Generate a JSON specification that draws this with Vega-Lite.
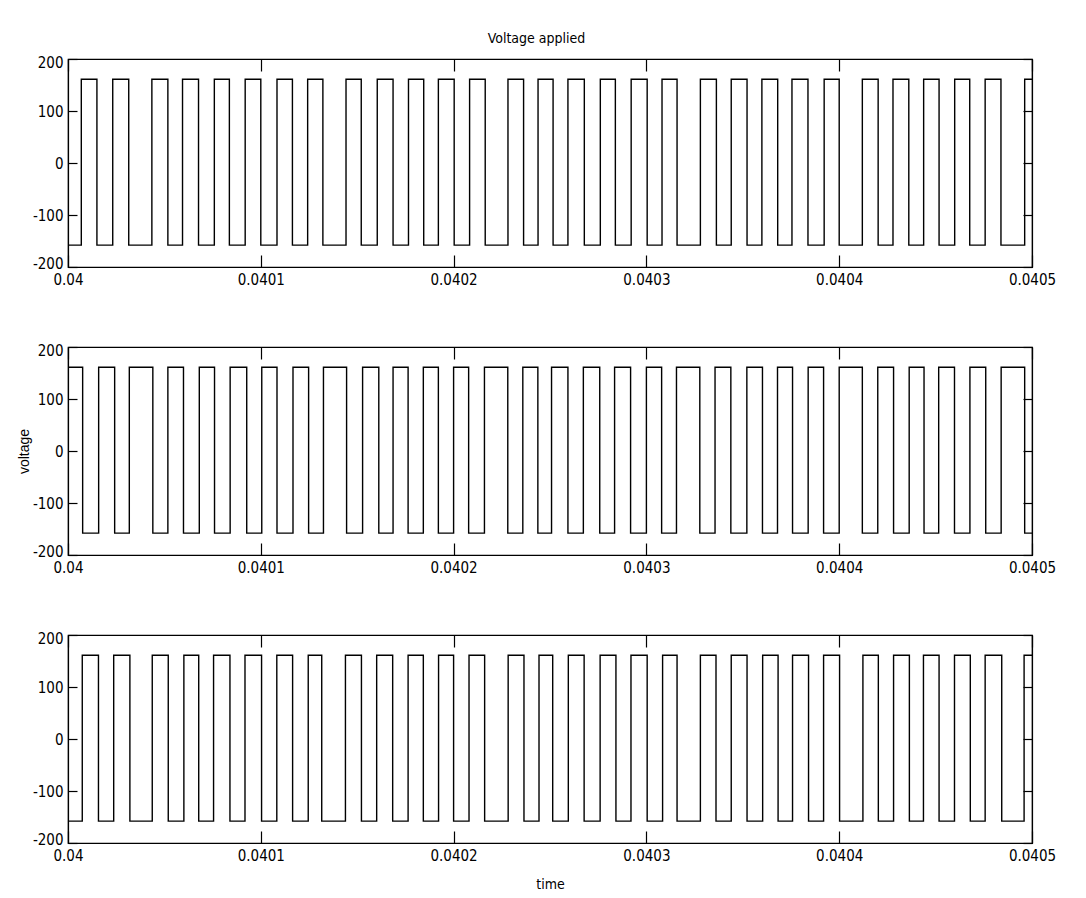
{
  "$schema": "https://vega.github.io/schema/vega-lite/v6.json",
  "padding": {"left": 16, "top": 32, "right": 40, "bottom": 5},
  "background": "white",
  "title": {"text": "Voltage applied", "fontSize": 14, "fontWeight": "normal", "font": "Liberation Sans Narrow, DejaVu Sans Condensed, Liberation Sans", "color": "black", "anchor": "middle", "offset": 8},
  "config": {
    "view": {"stroke": "black", "strokeWidth": 1.2},
    "axis": {"domainColor": "black", "tickColor": "black", "labelColor": "black", "titleColor": "black", "labelFont": "Liberation Sans Narrow, DejaVu Sans Condensed, Liberation Sans", "titleFont": "Liberation Sans", "labelFontSize": 15, "titleFontSize": 14, "titleFontWeight": "normal", "grid": false, "tickWidth": 1.2, "domainWidth": 1.2, "labelFlush": false}
  },
  "datasets": {
    "p1": [
      {"t": 0.04, "v": -158}, {"t": 0.0400069, "v": 161}, {"t": 0.040015, "v": -158}, {"t": 0.0400232, "v": 161}, {"t": 0.0400315, "v": -158},
      {"t": 0.0400435, "v": 161}, {"t": 0.0400518, "v": -158}, {"t": 0.0400594, "v": 161}, {"t": 0.0400677, "v": -158}, {"t": 0.0400759, "v": 161},
      {"t": 0.0400837, "v": -158}, {"t": 0.0400919, "v": 161}, {"t": 0.0401, "v": -158}, {"t": 0.0401084, "v": 161}, {"t": 0.0401164, "v": -158},
      {"t": 0.0401243, "v": 161}, {"t": 0.0401322, "v": -158}, {"t": 0.0401442, "v": 161}, {"t": 0.0401521, "v": -158}, {"t": 0.0401604, "v": 161},
      {"t": 0.0401686, "v": -158}, {"t": 0.0401766, "v": 161}, {"t": 0.0401845, "v": -158}, {"t": 0.0401921, "v": 161}, {"t": 0.0402003, "v": -158},
      {"t": 0.0402083, "v": 161}, {"t": 0.0402164, "v": -158}, {"t": 0.0402282, "v": 161}, {"t": 0.0402363, "v": -158}, {"t": 0.0402438, "v": 161},
      {"t": 0.0402516, "v": -158}, {"t": 0.0402593, "v": 161}, {"t": 0.0402678, "v": -158}, {"t": 0.0402761, "v": 161}, {"t": 0.0402839, "v": -158},
      {"t": 0.0402921, "v": 161}, {"t": 0.0403004, "v": -158}, {"t": 0.0403081, "v": 161}, {"t": 0.0403159, "v": -158}, {"t": 0.040328, "v": 161},
      {"t": 0.0403363, "v": -158}, {"t": 0.040344, "v": 161}, {"t": 0.0403522, "v": -158}, {"t": 0.0403599, "v": 161}, {"t": 0.0403681, "v": -158},
      {"t": 0.0403755, "v": 161}, {"t": 0.0403838, "v": -158}, {"t": 0.0403922, "v": 161}, {"t": 0.0404, "v": -158}, {"t": 0.040412, "v": 161},
      {"t": 0.0404202, "v": -158}, {"t": 0.0404279, "v": 161}, {"t": 0.0404361, "v": -158}, {"t": 0.0404438, "v": 161}, {"t": 0.0404518, "v": -158},
      {"t": 0.0404599, "v": 161}, {"t": 0.0404677, "v": -158}, {"t": 0.0404757, "v": 161}, {"t": 0.0404839, "v": -158}, {"t": 0.0404962, "v": 161},
      {"t": 0.0405, "v": 161}
    ],
    "p2": [
      {"t": 0.04, "v": 161}, {"t": 0.0400076, "v": -158}, {"t": 0.0400159, "v": 161}, {"t": 0.0400242, "v": -158}, {"t": 0.0400318, "v": 161},
      {"t": 0.040044, "v": -158}, {"t": 0.0400518, "v": 161}, {"t": 0.0400599, "v": -158}, {"t": 0.0400681, "v": 161}, {"t": 0.040076, "v": -158},
      {"t": 0.0400841, "v": 161}, {"t": 0.0400927, "v": -158}, {"t": 0.0401005, "v": 161}, {"t": 0.0401084, "v": -158}, {"t": 0.0401167, "v": 161},
      {"t": 0.0401248, "v": -158}, {"t": 0.0401325, "v": 161}, {"t": 0.0401445, "v": -158}, {"t": 0.0401528, "v": 161}, {"t": 0.0401612, "v": -158},
      {"t": 0.0401686, "v": 161}, {"t": 0.0401764, "v": -158}, {"t": 0.0401843, "v": 161}, {"t": 0.0401921, "v": -158}, {"t": 0.0402, "v": 161},
      {"t": 0.0402078, "v": -158}, {"t": 0.040216, "v": 161}, {"t": 0.0402281, "v": -158}, {"t": 0.0402359, "v": 161}, {"t": 0.0402437, "v": -158},
      {"t": 0.0402508, "v": 161}, {"t": 0.0402593, "v": -158}, {"t": 0.0402673, "v": 161}, {"t": 0.0402758, "v": -158}, {"t": 0.0402835, "v": 161},
      {"t": 0.0402918, "v": -158}, {"t": 0.0403, "v": 161}, {"t": 0.0403079, "v": -158}, {"t": 0.0403156, "v": 161}, {"t": 0.0403277, "v": -158},
      {"t": 0.0403356, "v": 161}, {"t": 0.0403438, "v": -158}, {"t": 0.0403521, "v": 161}, {"t": 0.0403602, "v": -158}, {"t": 0.040368, "v": 161},
      {"t": 0.0403758, "v": -158}, {"t": 0.0403839, "v": 161}, {"t": 0.0403919, "v": -158}, {"t": 0.0404, "v": 161}, {"t": 0.040412, "v": -158},
      {"t": 0.04042, "v": 161}, {"t": 0.0404282, "v": -158}, {"t": 0.0404363, "v": 161}, {"t": 0.040444, "v": -158}, {"t": 0.0404516, "v": 161},
      {"t": 0.0404598, "v": -158}, {"t": 0.0404678, "v": 161}, {"t": 0.040476, "v": -158}, {"t": 0.040484, "v": 161}, {"t": 0.0404962, "v": -158},
      {"t": 0.0405, "v": -158}
    ],
    "p3": [
      {"t": 0.04, "v": -158}, {"t": 0.0400074, "v": 161}, {"t": 0.0400158, "v": -158}, {"t": 0.0400237, "v": 161}, {"t": 0.0400321, "v": -158},
      {"t": 0.0400437, "v": 161}, {"t": 0.040052, "v": -158}, {"t": 0.0400601, "v": 161}, {"t": 0.0400678, "v": -158}, {"t": 0.0400755, "v": 161},
      {"t": 0.040084, "v": -158}, {"t": 0.0400918, "v": 161}, {"t": 0.0401004, "v": -158}, {"t": 0.0401083, "v": 161}, {"t": 0.0401165, "v": -158},
      {"t": 0.0401246, "v": 161}, {"t": 0.0401316, "v": -158}, {"t": 0.0401439, "v": 161}, {"t": 0.0401522, "v": -158}, {"t": 0.0401601, "v": 161},
      {"t": 0.0401684, "v": -158}, {"t": 0.0401764, "v": 161}, {"t": 0.0401843, "v": -158}, {"t": 0.0401922, "v": 161}, {"t": 0.0402, "v": -158},
      {"t": 0.040208, "v": 161}, {"t": 0.0402161, "v": -158}, {"t": 0.0402283, "v": 161}, {"t": 0.0402365, "v": -158}, {"t": 0.0402443, "v": 161},
      {"t": 0.0402514, "v": -158}, {"t": 0.0402595, "v": 161}, {"t": 0.0402677, "v": -158}, {"t": 0.040276, "v": 161}, {"t": 0.0402842, "v": -158},
      {"t": 0.040292, "v": 161}, {"t": 0.0403004, "v": -158}, {"t": 0.0403084, "v": 161}, {"t": 0.0403159, "v": -158}, {"t": 0.040328, "v": 161},
      {"t": 0.0403361, "v": -158}, {"t": 0.040344, "v": 161}, {"t": 0.0403522, "v": -158}, {"t": 0.0403603, "v": 161}, {"t": 0.0403683, "v": -158},
      {"t": 0.0403758, "v": 161}, {"t": 0.0403841, "v": -158}, {"t": 0.0403919, "v": 161}, {"t": 0.0404002, "v": -158}, {"t": 0.0404123, "v": 161},
      {"t": 0.0404203, "v": -158}, {"t": 0.0404282, "v": 161}, {"t": 0.0404364, "v": -158}, {"t": 0.0404437, "v": 161}, {"t": 0.0404518, "v": -158},
      {"t": 0.0404598, "v": 161}, {"t": 0.040468, "v": -158}, {"t": 0.0404757, "v": 161}, {"t": 0.0404843, "v": -158}, {"t": 0.0404959, "v": 161},
      {"t": 0.0405, "v": 161}
    ]
  },
  "spacing": 54,
  "vconcat": [
    {
      "width": 964, "height": 208,
      "data": {"name": "p1"},
      "resolve": {"axis": {"x": "independent", "y": "independent"}},
      "layer": [
        {
          "mark": {"type": "line", "interpolate": "step-after", "color": "black", "strokeWidth": 1.4},
          "encoding": {
            "x": {"field": "t", "type": "quantitative", "scale": {"domain": [0.04, 0.0405], "nice": false, "zero": false}, "axis": {"orient": "bottom", "values": [0.04, 0.0401, 0.0402, 0.0403, 0.0404, 0.0405], "format": ".4~f", "tickSize": -12, "labelPadding": 17, "title": null}},
            "y": {"field": "v", "type": "quantitative", "scale": {"domain": [-200, 200], "nice": false}, "axis": {"orient": "left", "values": [-200, -100, 0, 100, 200], "labelExpr": "datum.value < 0 ? '-' + abs(datum.value) : '' + datum.value", "labelFlush": true, "labelFlushOffset": 4, "tickSize": -9, "labelPadding": 14, "title": "voltage", "titleOpacity": 0, "titlePadding": 1}}
          }
        },
        {
          "mark": {"type": "line", "interpolate": "step-after", "opacity": 0},
          "encoding": {
            "x": {"field": "t", "type": "quantitative", "axis": {"orient": "top", "values": [0.04, 0.0401, 0.0402, 0.0403, 0.0404, 0.0405], "labels": false, "tickSize": -12, "title": null}},
            "y": {"field": "v", "type": "quantitative", "axis": {"orient": "right", "values": [-200, -100, 0, 100, 200], "labels": false, "tickSize": -9, "title": null}}
          }
        }
      ]
    },
    {
      "width": 964, "height": 208,
      "data": {"name": "p2"},
      "resolve": {"axis": {"x": "independent", "y": "independent"}},
      "layer": [
        {
          "mark": {"type": "line", "interpolate": "step-after", "color": "black", "strokeWidth": 1.4},
          "encoding": {
            "x": {"field": "t", "type": "quantitative", "scale": {"domain": [0.04, 0.0405], "nice": false, "zero": false}, "axis": {"orient": "bottom", "values": [0.04, 0.0401, 0.0402, 0.0403, 0.0404, 0.0405], "format": ".4~f", "tickSize": -12, "labelPadding": 17, "title": null}},
            "y": {"field": "v", "type": "quantitative", "scale": {"domain": [-200, 200], "nice": false}, "axis": {"orient": "left", "values": [-200, -100, 0, 100, 200], "labelExpr": "datum.value < 0 ? '-' + abs(datum.value) : '' + datum.value", "labelFlush": true, "labelFlushOffset": 4, "tickSize": -9, "labelPadding": 14, "title": "voltage", "titlePadding": 1}}
          }
        },
        {
          "mark": {"type": "line", "interpolate": "step-after", "opacity": 0},
          "encoding": {
            "x": {"field": "t", "type": "quantitative", "axis": {"orient": "top", "values": [0.04, 0.0401, 0.0402, 0.0403, 0.0404, 0.0405], "labels": false, "tickSize": -12, "title": null}},
            "y": {"field": "v", "type": "quantitative", "axis": {"orient": "right", "values": [-200, -100, 0, 100, 200], "labels": false, "tickSize": -9, "title": null}}
          }
        }
      ]
    },
    {
      "width": 964, "height": 208,
      "data": {"name": "p3"},
      "resolve": {"axis": {"x": "independent", "y": "independent"}},
      "layer": [
        {
          "mark": {"type": "line", "interpolate": "step-after", "color": "black", "strokeWidth": 1.4},
          "encoding": {
            "x": {"field": "t", "type": "quantitative", "scale": {"domain": [0.04, 0.0405], "nice": false, "zero": false}, "axis": {"orient": "bottom", "values": [0.04, 0.0401, 0.0402, 0.0403, 0.0404, 0.0405], "format": ".4~f", "tickSize": -12, "labelPadding": 17, "title": "time", "titleFont": "Liberation Sans Narrow, DejaVu Sans Condensed, Liberation Sans", "titlePadding": 14}},
            "y": {"field": "v", "type": "quantitative", "scale": {"domain": [-200, 200], "nice": false}, "axis": {"orient": "left", "values": [-200, -100, 0, 100, 200], "labelExpr": "datum.value < 0 ? '-' + abs(datum.value) : '' + datum.value", "labelFlush": true, "labelFlushOffset": 4, "tickSize": -9, "labelPadding": 14, "title": "voltage", "titleOpacity": 0, "titlePadding": 1}}
          }
        },
        {
          "mark": {"type": "line", "interpolate": "step-after", "opacity": 0},
          "encoding": {
            "x": {"field": "t", "type": "quantitative", "axis": {"orient": "top", "values": [0.04, 0.0401, 0.0402, 0.0403, 0.0404, 0.0405], "labels": false, "tickSize": -12, "title": null}},
            "y": {"field": "v", "type": "quantitative", "axis": {"orient": "right", "values": [-200, -100, 0, 100, 200], "labels": false, "tickSize": -9, "title": null}}
          }
        }
      ]
    }
  ]
}
